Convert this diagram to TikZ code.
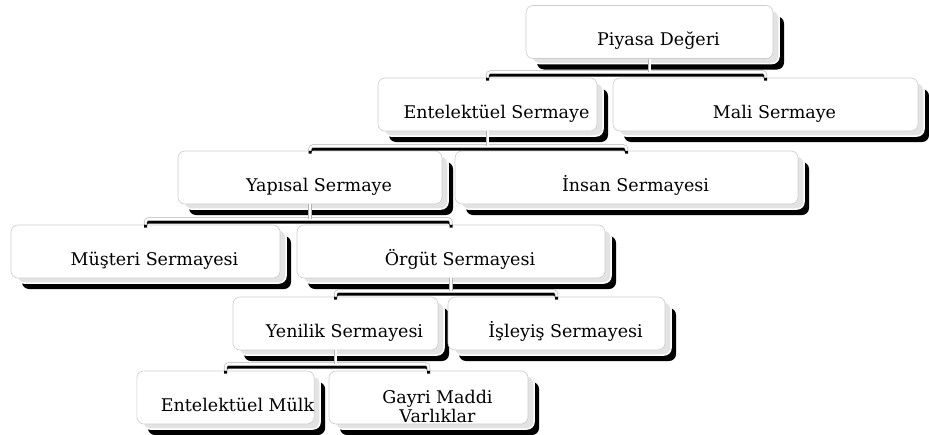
\documentclass[tikz,border=0pt]{standalone}
\usepackage{fontspec}
\setmainfont{DejaVu Serif}
\usepackage{tikz}
\usetikzlibrary{shadows}

\tikzset{
	card/.style = {rectangle, rounded corners = 7pt, draw = gray!40, line width = 0.6pt, fill = white,
		minimum height = 53pt, inner sep = 3pt, text height = 27pt, text depth = 0pt,
		font = \fontsize{17.5}{20}\selectfont, execute at begin node = \hspace*{18pt},
		general shadow = {fill = black, shadow xshift = 11pt, shadow yshift = -11pt},
		general shadow = {fill = gray!22, draw = white, line width = 1.5pt, shadow xshift = 6pt, shadow yshift = -5pt}},
	link/.style = {draw = gray!60, line width = 0.6pt, double = white, double distance = 2pt, rounded corners = 3pt},
	linkshade/.style = {draw = black, line width = 3pt, rounded corners = 3pt, transform canvas = {yshift = -3pt}}
}

\begin{document}
\begin{tikzpicture}[x = 1pt, y = -1pt]
		\useasboundingbox (0, 0) rectangle (929, 434);
		%%%%%%%%%%%%%
		\node[card, minimum width = 247pt] (piyasa) at (649.5, 32) {Piyasa Değeri};
		\node[card, minimum width = 219pt] (entel) at (487.5, 104.5) {Entelektüel Sermaye};
		\node[card, minimum width = 305pt] (mali) at (765.5, 104.5) {Mali Sermaye};
		\node[card, minimum width = 264pt] (yapisal) at (310, 177.5) {Yapısal Sermaye};
		\node[card, minimum width = 343pt] (insan) at (626.5, 177.5) {İnsan Sermayesi};
		\node[card, minimum width = 269pt] (musteri) at (145.5, 251.5) {Müşteri Sermayesi};
		\node[card, minimum width = 308pt] (orgut) at (451, 251.5) {Örgüt Sermayesi};
		\node[card, minimum width = 205pt] (yenilik) at (335.5, 323.5) {Yenilik Sermayesi};
		\node[card, minimum width = 217pt] (isleyis) at (556.5, 323.5) {İşleyiş Sermayesi};
		\node[card, minimum width = 175pt, inner xsep = 0pt, execute at begin node = \hspace*{6pt}] (mulk) at (225.5, 397.5) {Entelektüel Mülk};
		\node[card, minimum width = 199pt, text height = 32pt] (gayri) at (428.5, 397.5) {\begin{tabular}{@{}c@{}}Gayri Maddi\\[-1pt] Varlıklar\end{tabular}};
		%%%%%%%%%%%%%
		\coordinate (piyasa-m) at (649.5, 72);
		\coordinate (entel-m) at (487.5, 146);
		\coordinate (yapisal-m) at (310, 219);
		\coordinate (orgut-m) at (451, 291);
		\coordinate (yenilik-m) at (335.5, 364);
		%%%%%%%%%%%%%
		\draw[linkshade] (entel.north) |- (piyasa-m) -| (mali.north);
		\draw[link] (entel.north) |- (piyasa-m) -| (mali.north); \draw[link] (piyasa.south) -- (piyasa-m);
		\draw[linkshade] (yapisal.north) |- (entel-m) -| (insan.north);
		\draw[link] (yapisal.north) |- (entel-m) -| (insan.north); \draw[link] (entel.south) -- (entel-m);
		\draw[linkshade] (musteri.north) |- (yapisal-m) -| (orgut.north);
		\draw[link] (musteri.north) |- (yapisal-m) -| (orgut.north); \draw[link] (yapisal.south) -- (yapisal-m);
		\draw[linkshade] (yenilik.north) |- (orgut-m) -| (isleyis.north);
		\draw[link] (yenilik.north) |- (orgut-m) -| (isleyis.north); \draw[link] (orgut.south) -- (orgut-m);
		\draw[linkshade] (mulk.north) |- (yenilik-m) -| (gayri.north);
		\draw[link] (mulk.north) |- (yenilik-m) -| (gayri.north); \draw[link] (yenilik.south) -- (yenilik-m);
\end{tikzpicture}
\end{document}
